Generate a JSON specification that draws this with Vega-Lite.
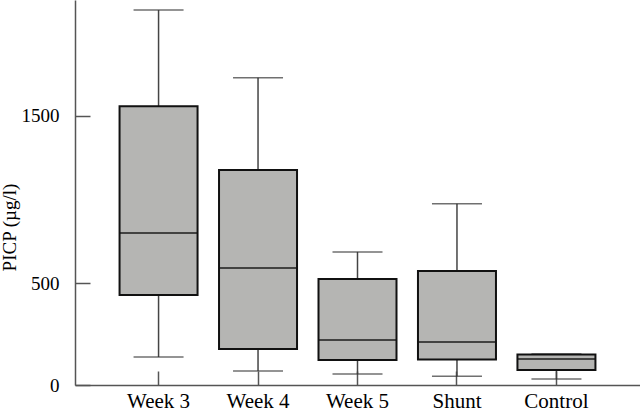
{
  "$schema": "https://vega.github.io/schema/vega-lite/v6.json",
  "width": 565,
  "height": 385,
  "autosize": {"type": "none"},
  "padding": {"left": 75, "top": 0, "right": 0, "bottom": 26},
  "background": "white",
  "config": {"view": {"stroke": null}, "font": "Liberation Serif"},
  "data": {
    "values": [
      {"group": "Week 3", "lower": 117, "q1": 436, "median": 787, "q3": 1561, "upper": 2180},
      {"group": "Week 4", "lower": 54, "q1": 155, "median": 587, "q3": 1165, "upper": 1741},
      {"group": "Week 5", "lower": 41, "q1": 103, "median": 200, "q3": 525, "upper": 678},
      {"group": "Shunt", "lower": 32, "q1": 105, "median": 190, "q3": 570, "upper": 960},
      {"group": "Control", "lower": 21, "q1": 58, "median": 108, "q3": 129, "upper": 131}
    ]
  },
  "encoding": {
    "x": {
      "field": "group",
      "type": "nominal",
      "sort": null,
      "scale": {"paddingInner": 0, "paddingOuter": 0.34},
      "axis": {
        "title": null,
        "labelAngle": 0,
        "labelFontSize": 21,
        "labelColor": "black",
        "labelPadding": 19,
        "tickSize": -14,
        "tickWidth": 1.5,
        "tickColor": "#555",
        "domainColor": "#555",
        "domainWidth": 1.5
      }
    }
  },
  "layer": [
    {
      "mark": {"type": "rule", "color": "#444", "strokeWidth": 1.5},
      "encoding": {
        "y": {
          "field": "lower",
          "type": "quantitative",
          "scale": {"type": "pow", "exponent": 0.887, "domain": [0, 2246], "nice": false},
          "title": "PICP (µg/l)",
          "axis": {
            "values": [0, 500, 1500],
            "format": "d",
            "grid": false,
            "labelFontSize": 19,
            "labelColor": "black",
            "labelPadding": 31,
            "tickSize": -15,
            "tickWidth": 1.5,
            "tickColor": "#555",
            "domainColor": "#555",
            "domainWidth": 1.5,
            "titleFontSize": 19,
            "titleFontWeight": "normal",
            "titleColor": "black",
            "titleX": -56,
            "titleY": 227
          }
        },
        "y2": {"field": "q1"}
      }
    },
    {
      "mark": {"type": "rule", "color": "#444", "strokeWidth": 1.5},
      "encoding": {
        "y": {"field": "q3", "type": "quantitative", "title": "PICP (µg/l)"},
        "y2": {"field": "upper"}
      }
    },
    {
      "mark": {"type": "tick", "color": "#333", "size": 50, "thickness": 1.5},
      "encoding": {
        "y": {"field": "lower", "type": "quantitative", "title": "PICP (µg/l)"}
      }
    },
    {
      "mark": {"type": "tick", "color": "#333", "size": 50, "thickness": 1.5},
      "encoding": {
        "y": {"field": "upper", "type": "quantitative", "title": "PICP (µg/l)"}
      }
    },
    {
      "mark": {"type": "bar", "size": 78, "fill": "#b5b5b3", "stroke": "#111", "strokeWidth": 2},
      "encoding": {
        "y": {"field": "q1", "type": "quantitative", "title": "PICP (µg/l)"},
        "y2": {"field": "q3"}
      }
    },
    {
      "mark": {"type": "tick", "color": "#111", "size": 78, "thickness": 2},
      "encoding": {
        "y": {"field": "median", "type": "quantitative", "title": "PICP (µg/l)"}
      }
    }
  ]
}
